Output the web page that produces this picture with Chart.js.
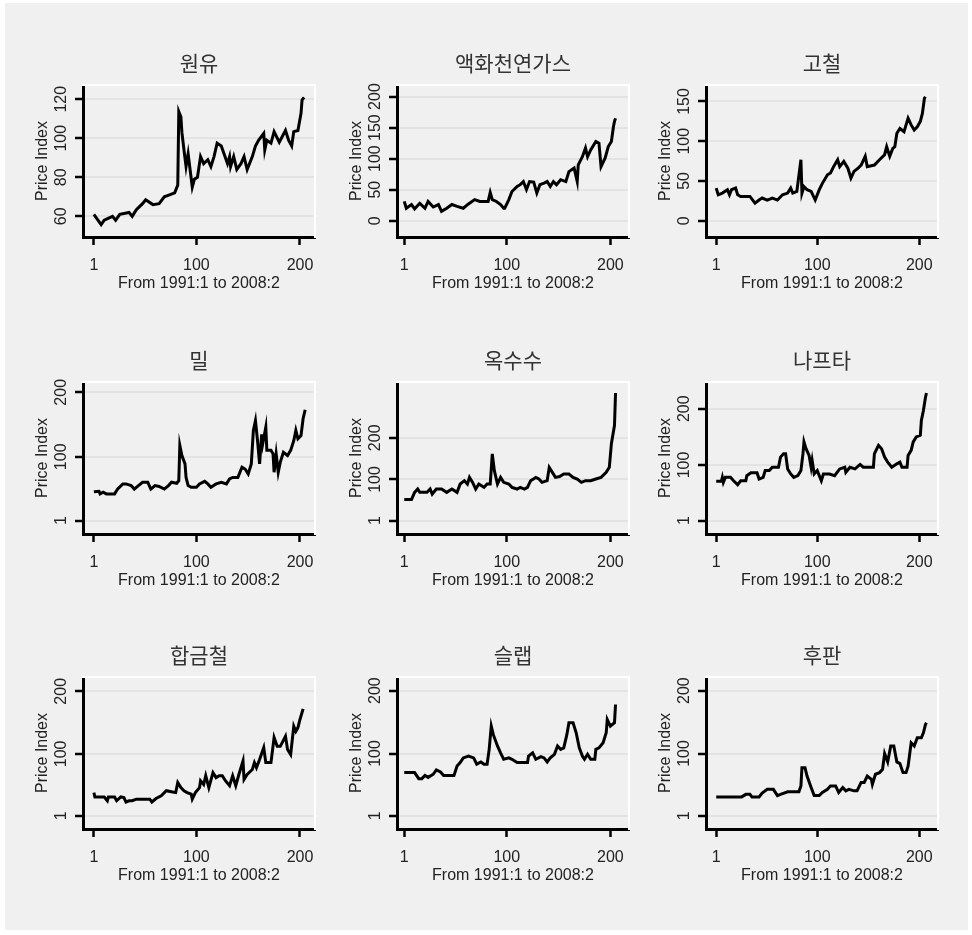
<!DOCTYPE html>
<html>
<head>
<meta charset="utf-8">
<script src="https://cdn.jsdelivr.net/npm/chart.js@4.4.1/dist/chart.umd.min.js"></script>
<style>
  html, body { margin: 0; padding: 0; background: #fff; }
  #wrap { position: relative; width: 972px; height: 935px; overflow: hidden; }
  #bg { position: absolute; left: 5px; top: 3px; width: 963px; height: 927px; background: #f0f0f0; }
  canvas { position: absolute; }
</style>
</head>
<body>
<div id="wrap"><div id="bg"></div></div>
<script>
// month index (1 = 1991:1) and price index
const crudeX = [1,8,11,19,22,26,35,38,42,48,51,58,64,69,74,79,82,83,85,86,88,90,92,96,98,101,104,107,111,114,117,120,124,127,130,132,133,136,139,143,146,149,154,157,160,165,166,168,172,175,180,186,189,192,194,198,201,202,204]
const crudeY = [61,55.7,58,60,58,61,62,60,63.4,66.5,68.5,66,66.5,70,71,72,76,113.7,111,103,94,85.5,92,75,79,80,90.6,87,89,85.5,90.6,97.5,96,91.5,87,90.6,85.5,90.6,84,87,90.6,84,90.6,96,99,102.5,94,99,97.5,103.4,98,104,99,96,103.4,104,112.8,119.6,121]

const lngX = [1,3,8,11,16,21,24,29,34,37,42,47,52,58,63,69,74,82,84,86,90,94,97,98,102,105,110,113,116,119,122,126,129,132,136,139,142,145,148,152,157,160,165,168,169,173,176,178,181,186,189,191,195,198,201,203,204,205]
const lngY = [31,20,26,19,28,20,31,22,26,15,20,26,23,20,27,34,31,31,45.5,34,31,26,20,20,34,47,55,58,63,50,63,62,44.5,58,60.5,63,55,63,58,66,63,79,85,63,90,103,117,103,114,127.5,125,87,101,119.5,127.5,151.7,160,165]

const scrapX = [1,3,7,12,14,16,20,22,25,34,39,43,46,51,56,61,66,71,74,76,80,84,85,87,90,94,98,102,105,110,113,116,120,122,126,130,133,136,140,143,147,149,156,161,166,168,171,174,176,178,181,185,189,192,195,198,201,203,205,206]
const scrapY = [41,32.6,34.7,39,32.6,39,41,32.6,30.5,30.5,22,26,28.5,26,28.5,26,32.6,34.7,41,34.7,36.8,76.6,34.7,43,39,36.8,26,39,47,57.7,60,68,76.6,68,74.5,66,53.6,62,66,70,81,68,70,76.6,83,93,81,91,93,110,116,112,129,120.5,114,118,125,135,154,156]

const wheatX = [1,6,7,10,13,21,24,29,32,37,40,44,48,53,56,60,64,69,73,76,81,83,84,86,89,90,92,95,100,103,108,111,114,119,124,129,132,135,140,144,147,150,153,155,157,159,161,163,164,167,168,172,174,175,177,179,181,184,188,191,194,196,198,201,203,205]
const wheatY = [46,46.6,42.5,45,42.5,42.5,50,58,58,55.4,50,55.4,60.6,60.6,50,55.4,54,50,55.4,60.6,59,63,117.6,102,89,68,55.4,52.8,52.8,58,62,58,52.8,58,60.6,58,65.8,68,68,84,81,73.5,89,141,156,125,89,135,120,146,110,110,104.6,76,104.6,76,91.7,107,102,110,125,141,128,133,159,173]

const cornX = [1,8,11,14,16,23,26,28,32,37,42,47,52,55,59,62,64,67,70,73,78,81,84,85,86,88,91,94,97,102,105,110,113,117,120,123,128,131,134,139,141,144,147,151,155,160,164,168,172,176,181,186,191,196,199,201,204,205]
const cornY = [51.6,51.6,69,77,69,69,77,65,77,77,69,77,69,89,97,89,105,93,77,89,81,89,89,125,161.5,121,89,105,93,89,81,77,81,77,81,97,105,101,93,97,129,117,105,107,113,113,105,101,93,97,97,101,105,117,129,186,230,307.6]

const naphthaX = [1,6,7,8,10,15,18,22,25,30,31,35,41,43,47,49,53,56,62,64,67,69,71,74,77,81,84,86,87,89,92,94,95,97,100,104,106,112,117,122,127,128,132,137,142,145,150,155,156,160,163,166,169,173,178,181,183,188,189,192,194,197,201,202,204,206,207]
const naphthaY = [71,71,78,69,78,78,72,65,72,72,81,86,86,75,78,90,90,96,96,114,120,120,93,84,78,81,90,120,141,129,117,96,108,84,90,72,84,84,81,93,96,87,96,93,101,96,96,96,120,135,129,114,105,96,102,105,96,96,117,126,141,150,153,179,197,220,228]

const ferroX = [1,2,11,14,15,21,23,27,30,32,35,38,42,55,57,61,66,71,77,80,82,85,88,91,95,96,99,103,104,107,109,112,116,119,122,125,128,132,135,138,141,145,146,149,154,156,158,161,165,167,172,175,178,181,186,188,191,194,196,198,200,203]
const ferroY = [38,31,31,25,31,31,25,31,30,23,25,25,27.5,27.5,23,28.6,33,41,39,38,54,46,41,38,35.5,27.5,38,46,57,51,65,46,70,62,65,65,57,49,65,49,67,88.6,59,67,75,86,78,91,110,86,86,126,112,112,128,107,99,144,136,142,155,172]

const slabX = [1,11,15,18,21,24,29,32,36,39,49,52,55,58,63,68,71,75,78,81,83,85,87,91,94,97,102,105,110,120,121,125,128,133,136,139,142,146,149,152,155,158,160,164,167,170,173,175,178,181,185,186,189,193,196,197,200,204,205]
const slabY = [69.6,69.6,60,60,65,62,67,74,70.7,65,65,80,85.5,93,96,93,83,86.5,83,83,106.6,143.5,130,112,101,90.8,93,90.8,85.5,85.5,96,101,90.8,95,93,86.5,93,98.7,112,106.6,109,130,149,149,133,109,96,90.8,98.7,90.8,90.8,106.6,109,117,133,154,143.5,149,178]

const plateX = [1,26,30,34,36,43,46,51,57,61,64,71,82,84,85,88,90,94,97,102,105,110,113,118,121,125,128,131,136,139,143,146,149,153,154,157,161,164,166,169,172,175,178,181,184,187,189,192,195,198,202,204,206,207]
const plateY = [31,31,35,35,31,31,37,43,43,33,35,39,39,48.5,77.5,77.5,64,46,33,33,38,43,48.5,48.5,38,46,40.6,43,40.6,40.6,54,54,64,59,51,67,69.6,75,100,86.6,112,112,86.6,84,69.6,69.6,80,117,112,125,125,133,146,149]

const titles = ['원유', '액화천연가스', '고철', '밀', '옥수수', '나프타', '합금철', '슬랩', '후판']
const seriesX = [crudeX, lngX, scrapX, wheatX, cornX, naphthaX, ferroX, slabX, plateX]
const seriesY = [crudeY, lngY, scrapY, wheatY, cornY, naphthaY, ferroY, slabY, plateY]
const yTickValues = [
  [60, 80, 100, 120],
  [0, 50, 100, 150, 200],
  [0, 50, 100, 150],
  [1, 100, 200],
  [1, 100, 200],
  [1, 100, 200],
  [1, 100, 200],
  [1, 100, 200],
  [1, 100, 200]
]
const yMin = [49.4, -26.3, -20.5, -19.7, -31, -22.8, -20.2, -20.1, -20.1]
const yMax = [127.3, 218.6, 170.7, 216, 334, 247.6, 222.9, 221.7, 221.7]
const xTickValues = [1, 100, 200]
const xMin = [-9.5, -6, -9]
const xMax = [214.5, 218, 218.3]
const xTitle = 'From 1991:1 to 2008:2'
const yTitle = 'Price Index'

// layout of the 3x3 grid (page pixels)
const colLeft = [83, 397, 706]
const rowTop = [85, 382, 677]
const plotW = 232
const plotH = 152
const padL = 78
const padT = 54
const padB = 66

const latin = '"Liberation Sans", Arial, sans-serif'
const textColor = '#222'

const wrap = document.getElementById('wrap')

for (let i = 0; i < titles.length; i++) {
  const col = i % 3
  const row = Math.floor(i / 3)
  const cv = document.createElement('canvas')
  cv.width = plotW + 2 * padL
  cv.height = padT + plotH + padB
  cv.style.left = (colLeft[col] - padL) + 'px'
  cv.style.top = (rowTop[row] - padT) + 'px'
  wrap.appendChild(cv)

  const points = seriesX[i].map((x, k) => ({ x: x, y: seriesY[i][k] }))

  new Chart(cv.getContext('2d'), {
    type: 'line',
    data: {
      datasets: [{
        data: points,
        borderColor: '#000',
        borderWidth: 3,
        pointRadius: 0,
        tension: 0,
        fill: false
      }]
    },
    options: {
      responsive: false,
      animation: false,
      devicePixelRatio: 1,
      layout: { padding: { left: 0, right: 0, top: 0, bottom: padB - 60 } },
      plugins: {
        legend: { display: false },
        tooltip: { enabled: false },
        title: {
          display: true,
          text: titles[i],
          color: '#333',
          font: { family: 'Noto Sans CJK KR', size: 21, weight: 'normal', lineHeight: '24px' },
          padding: { top: 20, bottom: 10 }
        }
      },
      scales: {
        x: {
          type: 'linear',
          position: 'bottom',
          min: xMin[col],
          max: xMax[col],
          afterBuildTicks: (axis) => { axis.ticks = xTickValues.map(v => ({ value: v })) },
          afterFit: (scale) => { scale.height = 60 },
          grid: { drawOnChartArea: false, drawTicks: true, tickLength: 8, tickColor: '#000', tickWidth: 2.5 },
          border: { display: true, color: '#000', width: 3 },
          ticks: { color: textColor, font: { family: latin, size: 16 }, padding: 11, maxRotation: 0 },
          title: { display: true, text: xTitle, color: textColor, font: { family: latin, size: 16 }, padding: { top: 0, bottom: 4 } }
        },
        y: {
          type: 'linear',
          position: 'left',
          min: yMin[i],
          max: yMax[i],
          afterBuildTicks: (axis) => { axis.ticks = yTickValues[i].map(v => ({ value: v })) },
          afterFit: (scale) => { scale.width = padL },
          grid: { color: '#e3e3e3', lineWidth: 2, drawTicks: true, tickLength: 8, tickColor: '#000', tickWidth: 2.5 },
          border: { display: true, color: '#000', width: 3 },
          ticks: { color: textColor, font: { family: latin, size: 16 }, minRotation: 90, maxRotation: 90, crossAlign: 'center', padding: 0 },
          title: { display: true, text: yTitle, color: textColor, font: { family: latin, size: 16 }, padding: { top: 28, bottom: 0 } }
        },
        xTop: {
          type: 'linear',
          position: 'top',
          min: 0,
          max: 1,
          grid: { display: false, drawTicks: false },
          border: { display: true, color: '#fff', width: 2 },
          ticks: { display: false }
        },
        yRight: {
          type: 'linear',
          position: 'right',
          min: 0,
          max: 1,
          afterFit: (scale) => { scale.width = padL },
          grid: { display: false, drawTicks: false },
          border: { display: true, color: '#fff', width: 2 },
          ticks: { display: false }
        }
      }
    }
  })
}
</script>
</body>
</html>
